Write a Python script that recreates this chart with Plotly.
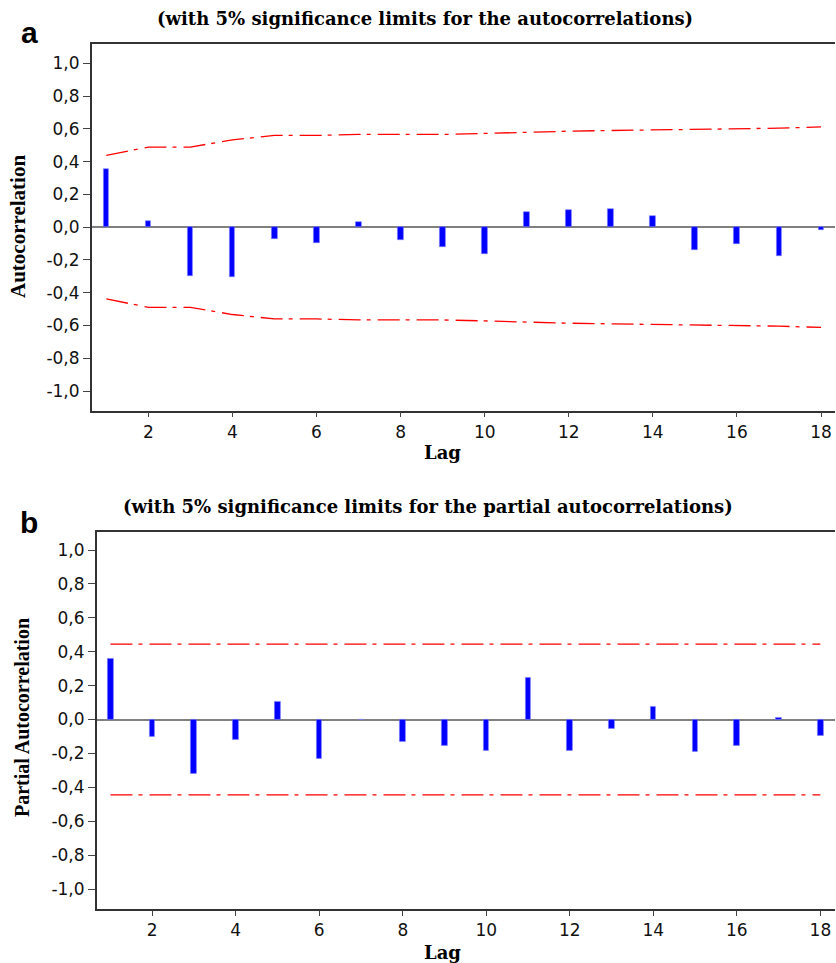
import plotly.graph_objects as go

lags = list(range(1, 19))
acf = [0.357, 0.037, -0.298, -0.304, -0.075, -0.099, 0.030, -0.081, -0.120,
       -0.166, 0.095, 0.107, 0.114, 0.071, -0.140, -0.101, -0.178, -0.018]
acf_upper = [0.438, 0.489, 0.489, 0.533, 0.560, 0.560, 0.566, 0.566, 0.566,
             0.572, 0.580, 0.586, 0.590, 0.594, 0.594, 0.598, 0.604, 0.612]
acf_lower = [-v for v in acf_upper]

pacf = [0.356, -0.103, -0.320, -0.117, 0.107, -0.231, 0.0, -0.128, -0.156,
        -0.186, 0.249, -0.186, -0.053, 0.075, -0.192, -0.156, 0.008, -0.097]
pacf_limit = 0.445

ytick_vals = [1.0, 0.8, 0.6, 0.4, 0.2, 0.0, -0.2, -0.4, -0.6, -0.8, -1.0]
ytick_text = ["1,0", "0,8", "0,6", "0,4", "0,2", "0,0", "-0,2", "-0,4", "-0,6", "-0,8", "-1,0"]
xtick_vals = [2, 4, 6, 8, 10, 12, 14, 16, 18]

title_a = "(with 5% significance limits for the autocorrelations)"
title_b = "(with 5% significance limits for the partial autocorrelations)"

W, H = 836, 963
DASH = "22px,6px,4px,7px"
SERIF = "Liberation Serif"
WSERIF = "DejaVu Serif"
SANS = "DejaVu Sans"

fig = go.Figure()

# Panel a
fig.add_trace(go.Bar(x=lags, y=acf, width=0.13, marker=dict(color="#0000ff", line=dict(color="#8080ff", width=0.6)),
                     xaxis="x", yaxis="y", showlegend=False))
fig.add_trace(go.Scatter(x=lags, y=acf_upper, mode="lines", line=dict(color="#ff0000", width=1.3, dash=DASH),
                         xaxis="x", yaxis="y", showlegend=False))
fig.add_trace(go.Scatter(x=lags, y=acf_lower, mode="lines", line=dict(color="#ff0000", width=1.3, dash=DASH),
                         xaxis="x", yaxis="y", showlegend=False))

# Panel b
fig.add_trace(go.Bar(x=lags, y=pacf, width=0.135, marker=dict(color="#0000ff", line=dict(color="#8080ff", width=0.6)),
                     xaxis="x2", yaxis="y2", showlegend=False))
fig.add_trace(go.Scatter(x=[lags[0], lags[-1]], y=[pacf_limit, pacf_limit], mode="lines",
                         line=dict(color="#ff0000", width=1.3, dash=DASH), xaxis="x2", yaxis="y2", showlegend=False))
fig.add_trace(go.Scatter(x=[lags[0], lags[-1]], y=[-pacf_limit, -pacf_limit], mode="lines",
                         line=dict(color="#ff0000", width=1.3, dash=DASH), xaxis="x2", yaxis="y2", showlegend=False))

xcommon = dict(tickvals=xtick_vals, ticks="outside", ticklen=5, tickcolor="#444", tickwidth=1,
               showline=True, linecolor="#333", linewidth=1.5, mirror=True, showgrid=False, zeroline=False,
               tickfont=dict(family=SANS, size=17, color="#111"))
ycommon = dict(tickvals=ytick_vals, ticktext=ytick_text, ticks="outside", ticklen=7, tickcolor="#444", tickwidth=1,
               showline=True, linecolor="#333", linewidth=1.5, showgrid=False,
               zeroline=True, zerolinecolor="#808080", zerolinewidth=1.5,
               tickfont=dict(family=SANS, size=17, color="#111"))

fig.update_layout(
    width=W, height=H,
    margin=dict(l=0, r=0, t=0, b=0),
    paper_bgcolor="white", plot_bgcolor="white",
    xaxis=dict(domain=[91.7 / W, 835.3 / W], range=[0.652, 18.34], anchor="y", **xcommon),
    yaxis=dict(domain=[1 - 410.7 / H, 1 - 44 / H], range=[-1.12, 1.118], anchor="x", **ycommon),
    xaxis2=dict(domain=[96.7 / W, 835 / W], range=[0.67, 18.35], anchor="y2", **xcommon),
    yaxis2=dict(domain=[1 - 909 / H, 1 - 531.7 / H], range=[-1.118, 1.108], anchor="x2", **ycommon),
    bargap=0,
)

def ann(text, x, y, size, family, angle=0, bold=True):
    t = f"<b>{text}</b>" if bold else text
    fig.add_annotation(text=t, x=x / W, y=1 - y / H, xref="paper", yref="paper", showarrow=False,
                       xanchor="center", yanchor="middle", textangle=angle,
                       font=dict(family=family, size=size, color="black"))

ann("a", 29, 32, 30, "Liberation Sans")
ann("b", 29, 522, 30, "Liberation Sans")
ann(title_a, 425, 19, 18, WSERIF)
ann(title_b, 428, 507, 18, WSERIF)
ann("Lag", 443, 453, 18, WSERIF)
ann("Lag", 443, 952, 18, WSERIF)
ann("Autocorrelation", 18, 227, 21, SERIF, angle=-90)
ann("Partial Autocorrelation", 22, 718, 20, SERIF, angle=-90)

fig.write_html("out.html", config={"displayModeBar": False},
               post_script="document.body.style.margin='0px';document.body.style.padding='0px';document.body.style.overflow='hidden';")
